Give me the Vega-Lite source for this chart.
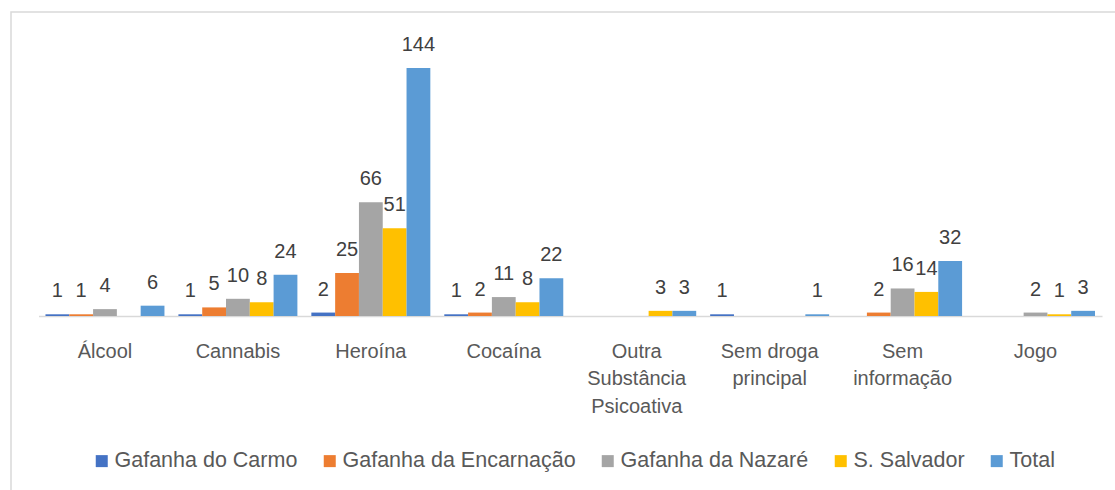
{
  "$schema": "https://vega.github.io/schema/vega-lite/v6.json",
  "width": 1106,
  "height": 480,
  "autosize": {"type": "none"},
  "padding": {"left": 11, "top": 12, "right": -2, "bottom": -2},
  "background": "white",
  "config": {
    "view": {"stroke": "#D9D9D9", "strokeWidth": 1.5},
    "font": "Liberation Sans"
  },
  "data": {
    "values": [
      {"categoria": "Álcool", "serie": "Gafanha do Carmo", "valor": 1},
      {"categoria": "Álcool", "serie": "Gafanha da Encarnação", "valor": 1},
      {"categoria": "Álcool", "serie": "Gafanha da Nazaré", "valor": 4},
      {"categoria": "Álcool", "serie": "Total", "valor": 6},
      {"categoria": "Cannabis", "serie": "Gafanha do Carmo", "valor": 1},
      {"categoria": "Cannabis", "serie": "Gafanha da Encarnação", "valor": 5},
      {"categoria": "Cannabis", "serie": "Gafanha da Nazaré", "valor": 10},
      {"categoria": "Cannabis", "serie": "S. Salvador", "valor": 8},
      {"categoria": "Cannabis", "serie": "Total", "valor": 24},
      {"categoria": "Heroína", "serie": "Gafanha do Carmo", "valor": 2},
      {"categoria": "Heroína", "serie": "Gafanha da Encarnação", "valor": 25},
      {"categoria": "Heroína", "serie": "Gafanha da Nazaré", "valor": 66},
      {"categoria": "Heroína", "serie": "S. Salvador", "valor": 51},
      {"categoria": "Heroína", "serie": "Total", "valor": 144},
      {"categoria": "Cocaína", "serie": "Gafanha do Carmo", "valor": 1},
      {"categoria": "Cocaína", "serie": "Gafanha da Encarnação", "valor": 2},
      {"categoria": "Cocaína", "serie": "Gafanha da Nazaré", "valor": 11},
      {"categoria": "Cocaína", "serie": "S. Salvador", "valor": 8},
      {"categoria": "Cocaína", "serie": "Total", "valor": 22},
      {"categoria": "Outra Substância Psicoativa", "serie": "S. Salvador", "valor": 3},
      {"categoria": "Outra Substância Psicoativa", "serie": "Total", "valor": 3},
      {"categoria": "Sem droga principal", "serie": "Gafanha do Carmo", "valor": 1},
      {"categoria": "Sem droga principal", "serie": "Total", "valor": 1},
      {"categoria": "Sem informação", "serie": "Gafanha da Encarnação", "valor": 2},
      {"categoria": "Sem informação", "serie": "Gafanha da Nazaré", "valor": 16},
      {"categoria": "Sem informação", "serie": "S. Salvador", "valor": 14},
      {"categoria": "Sem informação", "serie": "Total", "valor": 32},
      {"categoria": "Jogo", "serie": "Gafanha da Nazaré", "valor": 2},
      {"categoria": "Jogo", "serie": "S. Salvador", "valor": 1},
      {"categoria": "Jogo", "serie": "Total", "valor": 3}
    ]
  },
  "encoding": {
    "x": {
      "field": "categoria",
      "type": "nominal",
      "sort": ["Álcool", "Cannabis", "Heroína", "Cocaína", "Outra Substância Psicoativa", "Sem droga principal", "Sem informação", "Jogo"],
      "scale": {"range": [27.5, 1091], "paddingInner": 0.105, "paddingOuter": 0.0525},
      "axis": {
        "title": null,
        "offset": -176,
        "domainColor": "#D9D9D9",
        "domainWidth": 1.5,
        "ticks": false,
        "grid": false,
        "labelAngle": 0,
        "labelFontSize": 20,
        "labelColor": "#595959",
        "labelPadding": 25,
        "labelLineHeight": 27.5,
        "labelOverlap": false,
        "labelExpr": "datum.label == 'Outra Substância Psicoativa' ? ['Outra', 'Substância', 'Psicoativa'] : datum.label == 'Sem droga principal' ? ['Sem droga', 'principal'] : datum.label == 'Sem informação' ? ['Sem', 'informação'] : datum.label"
      }
    },
    "xOffset": {
      "field": "serie",
      "type": "nominal",
      "sort": ["Gafanha do Carmo", "Gafanha da Encarnação", "Gafanha da Nazaré", "S. Salvador", "Total"],
      "scale": {"paddingInner": 0, "paddingOuter": 0}
    },
    "y": {
      "field": "valor",
      "type": "quantitative",
      "scale": {"domain": [-102.2, 176.55], "nice": false, "zero": false},
      "axis": null
    }
  },
  "layer": [
    {
      "mark": {"type": "bar"},
      "encoding": {
        "y2": {"datum": 0},
        "color": {
          "field": "serie",
          "type": "nominal",
          "sort": ["Gafanha do Carmo", "Gafanha da Encarnação", "Gafanha da Nazaré", "S. Salvador", "Total"],
          "scale": {
            "domain": ["Gafanha do Carmo", "Gafanha da Encarnação", "Gafanha da Nazaré", "S. Salvador", "Total"],
            "range": ["#4472C4", "#ED7D31", "#A5A5A5", "#FFC000", "#5B9BD5"]
          },
          "legend": {
            "title": null,
            "orient": "none",
            "direction": "horizontal",
            "legendX": 80,
            "legendY": 438,
            "symbolType": "square",
            "symbolSize": 144,
            "symbolStrokeWidth": 0,
            "labelFontSize": 21.5,
            "labelColor": "#595959",
            "labelLimit": 400,
            "labelOffset": 2,
            "columnPadding": 21
          }
        }
      }
    },
    {
      "mark": {"type": "text", "dy": -17, "baseline": "alphabetic", "fontSize": 20, "color": "#404040"},
      "encoding": {
        "text": {"field": "valor", "type": "quantitative"}
      }
    }
  ]
}
